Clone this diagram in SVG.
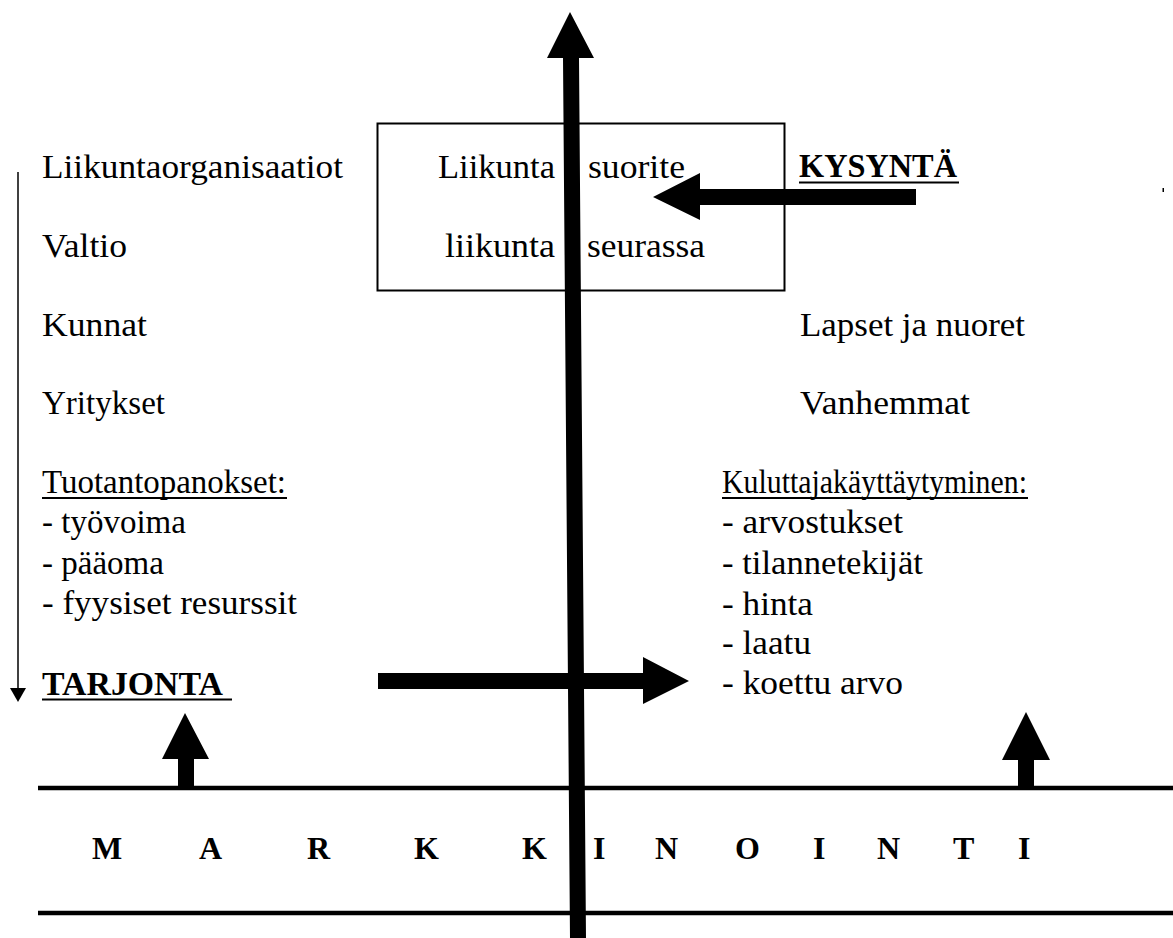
<svg xmlns="http://www.w3.org/2000/svg" width="1173" height="938" viewBox="0 0 1173 938">
  <style>
    .t { font-family: "Liberation Serif", "Times New Roman", serif; font-size: 33px; fill: #000; }
    .b { font-weight: bold; }
    .m { font-family: "Liberation Serif", "Times New Roman", serif; font-size: 32px; font-weight: bold; fill: #000; }
    .ul { stroke: #000; stroke-width: 2; }
    .solid { fill: #000; stroke: none; }
  </style>
  <rect width="1173" height="938" fill="#fff"/>

  <!-- central box -->
  <g id="box">
    <rect x="377.5" y="123.5" width="407" height="167" fill="none" stroke="#000" stroke-width="2"/>
    <text class="t" x="438" y="178" textLength="117" lengthAdjust="spacingAndGlyphs">Liikunta</text>
    <text class="t" x="588" y="178" textLength="97" lengthAdjust="spacingAndGlyphs">suorite</text>
    <text class="t" x="445" y="257" textLength="110" lengthAdjust="spacingAndGlyphs">liikunta</text>
    <text class="t" x="587" y="257" textLength="118" lengthAdjust="spacingAndGlyphs">seurassa</text>
  </g>

  <!-- supply side -->
  <g id="supply">
    <text class="t" x="42" y="178" textLength="301" lengthAdjust="spacingAndGlyphs">Liikuntaorganisaatiot</text>
    <text class="t" x="42" y="257" textLength="85" lengthAdjust="spacingAndGlyphs">Valtio</text>
    <text class="t" x="42" y="336" textLength="105" lengthAdjust="spacingAndGlyphs">Kunnat</text>
    <text class="t" x="42" y="414" textLength="123" lengthAdjust="spacingAndGlyphs">Yritykset</text>
    <text class="t" x="42" y="493" textLength="244" lengthAdjust="spacingAndGlyphs">Tuotantopanokset:</text>
    <line class="ul" x1="42" y1="498" x2="287" y2="498"/>
    <text class="t" x="42" y="533">- työvoima</text>
    <text class="t" x="42" y="574">- pääoma</text>
    <text class="t" x="42" y="614" textLength="255" lengthAdjust="spacingAndGlyphs">- fyysiset resurssit</text>
  </g>

  <g id="tarjonta">
    <text class="t b" x="42" y="695" textLength="181" lengthAdjust="spacingAndGlyphs">TARJONTA</text>
    <line class="ul" x1="42" y1="699.5" x2="232" y2="699.5"/>
  </g>

  <!-- demand side -->
  <g id="kysynta">
    <text class="t b" x="799" y="177" textLength="158" lengthAdjust="spacingAndGlyphs">KYSYNTÄ</text>
    <line class="ul" x1="799" y1="182.5" x2="959" y2="182.5"/>
  </g>

  <g id="demand">
    <text class="t" x="800" y="336" textLength="225" lengthAdjust="spacingAndGlyphs">Lapset ja nuoret</text>
    <text class="t" x="800" y="414" textLength="170" lengthAdjust="spacingAndGlyphs">Vanhemmat</text>
    <text class="t" x="722" y="493" textLength="305" lengthAdjust="spacingAndGlyphs">Kuluttajakäyttäytyminen:</text>
    <line class="ul" x1="722" y1="498" x2="1028" y2="498"/>
    <text class="t" x="722" y="533" textLength="181" lengthAdjust="spacingAndGlyphs">- arvostukset</text>
    <text class="t" x="722" y="574" textLength="201" lengthAdjust="spacingAndGlyphs">- tilannetekijät</text>
    <text class="t" x="722" y="615" textLength="91" lengthAdjust="spacingAndGlyphs">- hinta</text>
    <text class="t" x="722" y="654" textLength="89" lengthAdjust="spacingAndGlyphs">- laatu</text>
    <text class="t" x="722" y="694" textLength="181" lengthAdjust="spacingAndGlyphs">- koettu arvo</text>
  </g>

  <!-- marketing band -->
  <g id="markkinointi">
    <line x1="38" y1="788" x2="1173" y2="788" stroke="#000" stroke-width="4.5"/>
    <line x1="38" y1="913" x2="1173" y2="913" stroke="#000" stroke-width="4.5"/>
    <text class="m" y="859">
      <tspan x="92">M</tspan><tspan x="199">A</tspan><tspan x="307">R</tspan><tspan x="414">K</tspan><tspan x="522">K</tspan>
      <tspan x="593">I</tspan><tspan x="655">N</tspan><tspan x="735">O</tspan><tspan x="813">I</tspan><tspan x="877">N</tspan><tspan x="953">T</tspan><tspan x="1018">I</tspan>
    </text>
  </g>

  <!-- small mark at right edge -->
  <rect x="1162.5" y="188" width="1.5" height="4" fill="#000"/>

  <!-- arrows -->
  <g id="connectors">
    <!-- thin downward arrow along the supply list -->
    <line x1="18" y1="172" x2="18" y2="690" stroke="#000" stroke-width="1.5"/>
    <polygon class="solid" points="10,688 26,688 18,702"/>
    <!-- demand arrow pointing into the box -->
    <polygon class="solid" points="916,189 700,189 700,173 653,197 700,220 700,205 916,205"/>
    <!-- supply arrow pointing to consumers -->
    <polygon class="solid" points="378,673 643,673 643,657 689,681 643,704 643,689 378,689"/>
    <!-- upward arrows from the marketing band -->
    <polygon class="solid" points="178,786 178,759 162,759 185,713 209,759 194,759 194,786"/>
    <polygon class="solid" points="1018,786 1018,760 1002,760 1026,712 1050,760 1034,760 1034,786"/>
    <!-- main vertical axis -->
    <polygon class="solid" points="570,12 594,58 579,58 586,938 570,938 563,58 547,58"/>
  </g>
</svg>
